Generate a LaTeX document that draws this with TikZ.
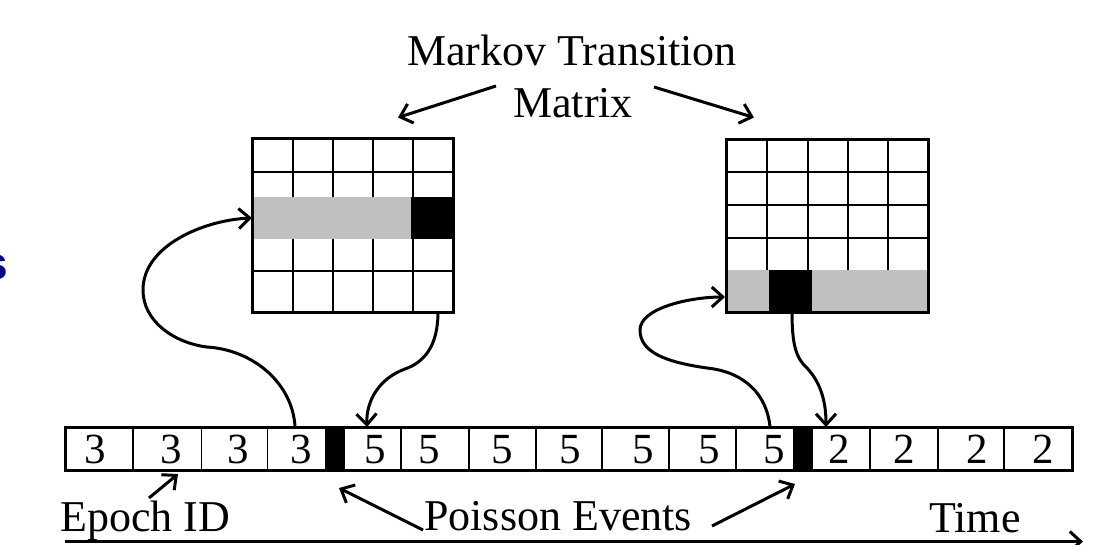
\documentclass[tikz,border=0pt]{standalone}
\usepackage{fontspec}
\setmainfont{Liberation Serif}
\newfontfamily\cutsans{Liberation Sans}
\usetikzlibrary{arrows.meta}
\definecolor{bandgray}{RGB}{192,192,192}
\definecolor{navy}{RGB}{0,0,128}
\begin{document}
\begin{tikzpicture}[x=1pt,y=-1pt,
  lbl/.style={font=\fontsize{44}{50}\selectfont, inner sep=0pt},
  digit/.style={font=\fontsize{43}{50}\selectfont, inner sep=0pt, anchor=base},
  arr/.style={line width=3pt, -{Straight Barb[length=11pt,width=20pt,line width=3pt]}},
  frame/.style={draw, line width=3pt, inner sep=0pt},
  gridline/.style={line width=1.8pt},
  divider/.style={line width=1.6pt},
]
\useasboundingbox (0,0) rectangle (1106,544);

% cut-off letter at the left edge
\node[anchor=base east, inner sep=0pt, text=navy, font=\cutsans\bfseries\fontsize{46}{50}\selectfont] (cut) at (8.7,279) {s};

% title
\node[lbl, anchor=base] (title1) at (572,65) {Markov Transition};
\node[lbl, anchor=base] (title2) at (573,117) {Matrix};
\coordinate (tl0) at (496,86);
\coordinate (tl1) at (398,117.5);
\coordinate (tr0) at (654,87);
\coordinate (tr1) at (754,117.5);
\draw[arr] (tl0) -- (tl1);
\draw[arr] (tr0) -- (tr1);

% left matrix
\foreach \x in {293,333,373,413} \draw[gridline] (\x,138) -- (\x,312);
\foreach \y in {172,205,238,271} \draw[gridline] (252,\y) -- (453,\y);
\fill[bandgray] (250.5,197) rectangle (411,239);
\fill[black] (411,197) rectangle (454.5,239);
\node[frame, minimum width=201pt, minimum height=174pt] (lm) at (352.5,225) {};

% right matrix
\foreach \x in {767,808,848,888} \draw[gridline] (\x,139) -- (\x,312);
\foreach \y in {172,205,238} \draw[gridline] (726,\y) -- (928,\y);
\fill[bandgray] (726,270) rectangle (928,312);
\fill[black] (769,270) rectangle (812,312);
\node[frame, minimum width=202pt, minimum height=173pt] (rm) at (827,225.5) {};

% epoch bar
\node[draw, line width=3pt, inner sep=0pt, minimum width=1006.2pt, minimum height=43pt] (bar) at (568.9,448.5) {};
\foreach \x in {133,201.5,267.5,401,469,536,602,669,736,870,938,1004}
  \draw[divider] (\x,427) -- (\x,470);
\fill[black] (325,427) rectangle (345,470);
\fill[black] (793,427) rectangle (813,470);
\foreach \x/\d [count=\i] in {95/3,171/3,238/3,301/3,375/5,429/5,502/5,570/5,643/5,709/5,774/5,839/2,904/2,977/2,1043/2}
  \node[digit] (d\i) at (\x,463) {\d};

% curved connectors
\coordinate (lu0) at (295,427);
\coordinate (lu1) at (252,218);
\coordinate (ld0) at (438,312);
\coordinate (ld1) at (367,427);
\coordinate (ru0) at (770,427);
\coordinate (ru1) at (725,297);
\coordinate (rd0) at (792,312);
\coordinate (rd1) at (826,427);
\draw[arr] (lu0) .. controls (293,385) and (255,350) .. (207,347)
  .. controls (175,343) and (143,322) .. (143,290)
  .. controls (143,245) and (205,220) .. (lu1);
\draw[arr] (ld0) .. controls (438,345) and (425,362) .. (405,369)
  .. controls (380,378) and (366,400) .. (ld1);
\draw[arr] (ru0) .. controls (767,395) and (745,372) .. (707,368)
  .. controls (665,362) and (640,352) .. (640,330)
  .. controls (640,308) and (690,297) .. (ru1);
\draw[arr] (rd0) .. controls (792,345) and (796,358) .. (807,368)
  .. controls (820,382) and (826,400) .. (rd1);

% bottom labels
\node[lbl, anchor=base west] (epoch) at (60,531) {Epoch ID};
\node[lbl, anchor=base west] (poisson) at (424,530) {Poisson Events};
\node[lbl, anchor=base west] (time) at (929,532) {Time};
\coordinate (ea0) at (149,498);
\coordinate (ea1) at (178,474);
\coordinate (pl0) at (423,530);
\coordinate (pl1) at (339,488);
\coordinate (pr0) at (712,526);
\coordinate (pr1) at (795,484);
\draw[arr] (ea0) -- (ea1);
\draw[arr] (pl0) -- (pl1);
\draw[arr] (pr0) -- (pr1);

% time axis
\coordinate (ax0) at (65,541.5);
\coordinate (ax1) at (1083,541.5);
\draw[arr] (ax0) -- (ax1);
\end{tikzpicture}
\end{document}
